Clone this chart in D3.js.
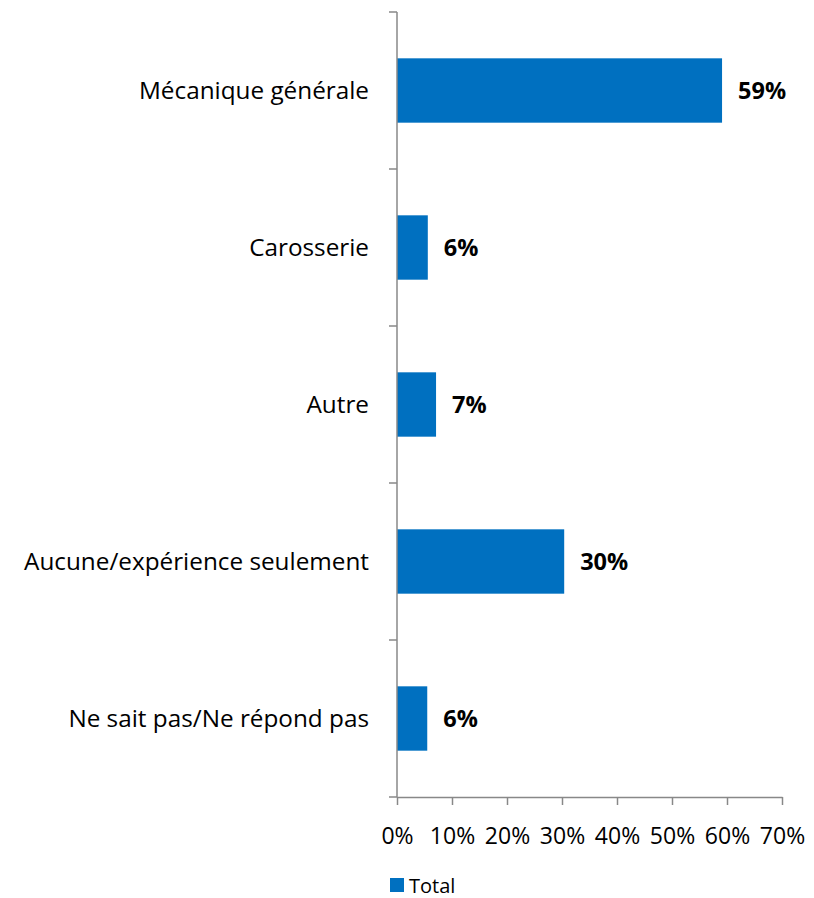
<!DOCTYPE html>
<html><head><meta charset="utf-8">
<script src="https://cdn.jsdelivr.net/npm/d3@7"></script>
<style>body{margin:0;background:#fff;} text{font-family:"Open Sans",sans-serif;}</style>
</head><body>
<svg id="c" width="814" height="898"></svg>
<script>
const categories = ["Mécanique générale","Carosserie","Autre","Aucune/expérience seulement","Ne sait pas/Ne répond pas"];
const values = [59.1, 5.6, 7.1, 30.4, 5.5];
const labels = ["59%","6%","7%","30%","6%"];
const ticks = [0,10,20,30,40,50,60,70];
const seriesName = "Total";

(function(){
const svg = d3.select("#c");
const pL = 397, pR = 782, pT = 12, pB = 797;
const FF = "'Open Sans',sans-serif";
const x = d3.scaleLinear().domain([0,70]).range([pL,pR]);
const y = d3.scaleBand().domain(categories).range([pT,pB]).paddingInner(0.59).paddingOuter(0.295);
const color = "#0070C0", axisColor = "#888";

svg.selectAll("rect.bar").data(values).join("rect").attr("class","bar")
  .attr("x", x(0)).attr("y",(d,i)=>y(categories[i]))
  .attr("width", d=>x(d)-x(0)).attr("height", y.bandwidth()).attr("fill", color);

svg.append("line").attr("x1",pL).attr("x2",pL).attr("y1",pT).attr("y2",pB).attr("stroke",axisColor).attr("stroke-width",1.5);
const step = (pB-pT)/categories.length;
d3.range(categories.length+1).forEach(i=>{
  svg.append("line").attr("x1",pL-8).attr("x2",pL).attr("y1",pT+i*step).attr("y2",pT+i*step).attr("stroke",axisColor).attr("stroke-width",1.5);
});
svg.selectAll("text.cat").data(categories).join("text").attr("class","cat")
  .attr("x",pL-28).attr("y",d=>y(d)+y.bandwidth()/2).attr("dy","0.35em")
  .attr("text-anchor","end").attr("font-size",24.3).attr("fill","#000").text(d=>d);

const xa = svg.append("g").attr("transform",`translate(0,${pB})`)
  .call(d3.axisBottom(x).tickValues(ticks).tickFormat(d=>d+"%").tickSize(8).tickSizeOuter(0));
xa.select(".domain").attr("stroke",axisColor).attr("stroke-width",1.5);
xa.selectAll(".tick line").attr("stroke",axisColor).attr("stroke-width",1.5);
xa.selectAll(".tick text").attr("font-size",23).attr("fill","#000").attr("y",31).attr("font-family",FF);

svg.selectAll("text.val").data(values).join("text").attr("class","val")
  .attr("x",d=>x(d)+16).attr("y",(d,i)=>y(categories[i])+y.bandwidth()/2).attr("dy","0.35em")
  .attr("font-size",23.5).attr("font-weight","bold").attr("fill","#000").text((d,i)=>labels[i]);

svg.append("rect").attr("x",390).attr("y",878).attr("width",14).attr("height",14).attr("fill",color);
svg.append("text").attr("x",409).attr("y",893).attr("font-size",20).attr("fill","#000").text(seriesName);
})();
</script>
</body></html>
